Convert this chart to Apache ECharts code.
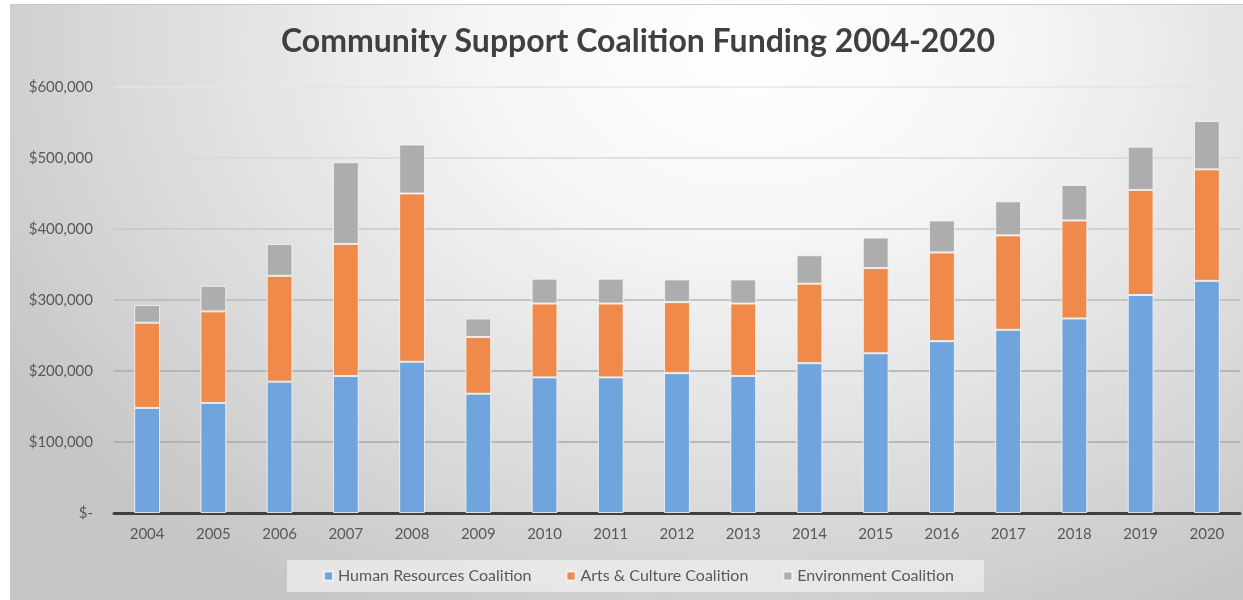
<!DOCTYPE html>
<html>
<head>
<meta charset="utf-8">
<script src="https://cdn.jsdelivr.net/npm/echarts@6/dist/echarts.min.js"></script>
<style>
html,body{margin:0;padding:0;background:#ffffff;}
#chart{position:absolute;left:10px;top:4px;width:1233px;height:596px;
  background:radial-gradient(ellipse 860px 640px at 740px 40px, #ffffff 0%, #f6f6f6 30%, #e6e6e6 55%, #d6d6d6 78%, #c6c6c6 100%);
  border-top:1px solid #c8c8c8;box-sizing:border-box;}
</style>
</head>
<body>
<div id="chart"></div>
<script>
const years = ['2004','2005','2006','2007','2008','2009','2010','2011','2012','2013','2014','2015','2016','2017','2018','2019','2020'];
const humanResources = [148000,155000,185000,193000,213000,168000,191000,191000,197000,193000,211000,225000,242000,258000,274000,307000,327000];
const artsCulture    = [120000,129000,149000,186000,237000, 80000,104000,104000,100000,102000,112000,120000,125000,133000,138000,148000,157000];
const environment    = [ 25000, 36000, 45000,115000, 69000, 26000, 35000, 35000, 32000, 34000, 40000, 43000, 45000, 48000, 50000, 61000, 68000];
const seriesNames = ['Human Resources Coalition','Arts & Culture Coalition','Environment Coalition'];
const yTicks = [0,100000,200000,300000,400000,500000,600000];

const chart = echarts.init(document.getElementById('chart'));
const fmt = v => v === 0 ? '$-' : '$' + v.toLocaleString('en-US');
const colors = ['#6fa5dc','#f08a4b','#adadad'];
const bar = (name, data, i) => ({
  name, type:'bar', stack:'total', data, barWidth:'39%',
  itemStyle:{color:colors[i], borderColor:'rgba(245,245,245,0.85)', borderWidth:1}
});
chart.setOption({
  backgroundColor:'transparent',
  textStyle:{fontFamily:'Lato'},
  title:{text:'Community Support Coalition Funding 2004-2020', left:266, top:16,
    textStyle:{fontFamily:'Lato', fontWeight:'bold', fontSize:32, color:'#404040'}},
  legend:{data:seriesNames, bottom:8, left:277, itemWidth:9, itemHeight:9, itemGap:34,
    backgroundColor:'rgba(236,236,236,0.8)', padding:[8,30,8,36],
    textStyle:{fontFamily:'Lato', fontSize:16, color:'#595959'}, icon:'rect'},
  grid:{left:104, right:3, top:82, bottom:87, containLabel:false},
  xAxis:{type:'category', data:years,
    axisLine:{lineStyle:{color:'#404040', width:3}}, axisTick:{show:false},
    axisLabel:{fontFamily:'Lato', fontSize:15, color:'#595959', margin:14}},
  yAxis:{type:'value', min:yTicks[0], max:yTicks[yTicks.length-1], interval:100000,
    axisLine:{show:false}, axisTick:{show:false},
    axisLabel:{formatter:fmt, fontFamily:'Lato', fontSize:15, color:'#595959', margin:21},
    splitLine:{lineStyle:{width:1.5, color:['#aaaaaa','#aaaaaa','#adadad','#b8b8b8','#c8c8c8','#d8d8d8','#e4e4e4']}}},
  series:[bar(seriesNames[0],humanResources,0), bar(seriesNames[1],artsCulture,1), bar(seriesNames[2],environment,2)]
});
</script>
</body>
</html>
